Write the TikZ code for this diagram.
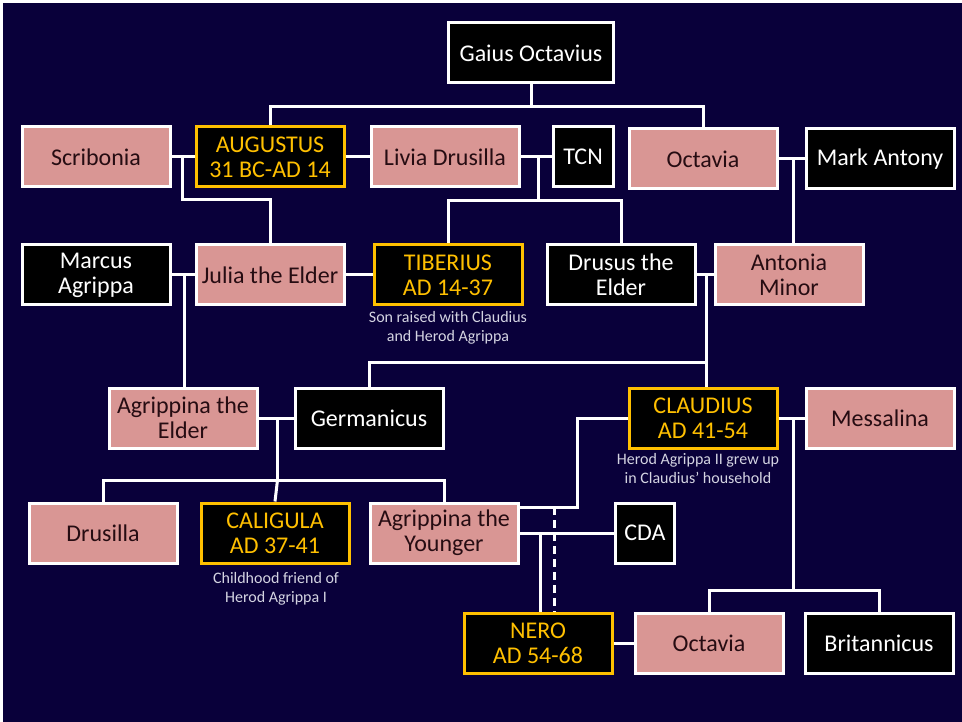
\documentclass[tikz,border=0pt]{standalone}
\usepackage{fontspec}
\setmainfont{Carlito}
\usetikzlibrary{calc}
\definecolor{navybg}{RGB}{9,0,58}
\definecolor{pinkfill}{RGB}{217,150,148}
\definecolor{pinktext}{RGB}{38,12,18}
\definecolor{gold}{RGB}{255,192,0}
\definecolor{notegray}{RGB}{212,212,226}
\tikzset{
  person/.style={draw=white, line width=3pt, minimum width=148pt, minimum height=60pt,
    inner sep=0pt, align=center, font=\fontsize{24}{25}\selectfont},
  pinkbox/.style={person, fill=pinkfill, text=pinktext},
  blackbox/.style={person, fill=black, text=white},
  emperor/.style={person, fill=black, draw=gold, text=gold},
  note/.style={text=notegray, align=center, inner sep=0pt, font=\fontsize{16}{19}\selectfont},
  link/.style={draw=white, line width=3pt},
}
\begin{document}
\begin{tikzpicture}[x=1pt, y=-1pt]
% background
\useasboundingbox (0,0) rectangle (962,722);
\fill[white] (0,0) rectangle (962,722);
\fill[navybg] (3,3) rectangle (962,722);
% row 0
\node[blackbox, minimum width=165pt] (gaius) at (531,53) {Gaius Octavius};
% row 1
\node[pinkbox] (scribonia) at (96,157) {Scribonia};
\node[emperor] (augustus) at (270,157) {AUGUSTUS\\31 BC-AD 14};
\node[pinkbox] (livia) at (445,157) {Livia Drusilla};
\node[blackbox, minimum width=60pt] (tcn) at (583,157) {TCN};
\node[pinkbox] (octaviaA) at (703,159) {Octavia};
\node[blackbox] (antony) at (880,159) {Mark Antony};
% row 2
\node[blackbox] (marcus) at (96,275) {Marcus\\Agrippa};
\node[pinkbox] (julia) at (270,275) {Julia the Elder};
\node[emperor] (tiberius) at (448,275) {TIBERIUS\\AD 14-37};
\node[blackbox] (drusus) at (621,275) {Drusus the\\Elder};
\node[pinkbox] (antonia) at (789,275) {Antonia\\Minor};
\node[note] (tibnote) at (448,328) {Son raised with Claudius\\and Herod Agrippa};
% row 3
\node[pinkbox] (agrElder) at (183,418) {Agrippina the\\Elder};
\node[blackbox] (germanicus) at (369,418) {Germanicus};
\node[emperor] (claudius) at (703,418) {CLAUDIUS\\AD 41-54};
\node[pinkbox] (messalina) at (880,418) {Messalina};
\node[note] (claudnote) at (698,469) {Herod Agrippa II grew up\\in Claudius’ household};
% row 4
\node[pinkbox] (drusilla) at (103,533) {Drusilla};
\node[emperor] (caligula) at (275,533) {CALIGULA\\AD 37-41};
\node[pinkbox] (agrYounger) at (444,533) {Agrippina the\\Younger};
\node[blackbox, minimum width=59pt] (cda) at (645,533) {CDA};
\node[note] (calinote) at (276,589) {Childhood friend of\\Herod Agrippa I};
% row 5
\node[emperor] (nero) at (538,643) {NERO\\AD 54-68};
\node[pinkbox] (octaviaB) at (709,643) {Octavia};
\node[blackbox] (britannicus) at (879,643) {Britannicus};
% Gaius Octavius -> children
\draw[link] (gaius.south) -- ++(0,22) coordinate (gk);
\draw[link] (augustus.north) |- (gk) -| (octaviaA.north);
% marriages, row 1
\draw[link] (scribonia) -- (augustus);
\draw[link] (augustus) -- (livia);
\draw[link] (livia) -- (tcn);
\draw[link] (octaviaA) -- (antony);
\coordinate (sa) at ([xshift=11pt]scribonia.east);
\draw[link] (sa) -- ++(0,43) -| (julia.north);
\coordinate (lt) at ([xshift=18pt]livia.east);
\draw[link] (lt) -- ++(0,44) coordinate (ltk);
\draw[link] (tiberius.north) |- (ltk) -| (drusus.north);
\coordinate (oa) at ([xshift=15pt]octaviaA.east);
\draw[link] (oa) -- (oa |- antonia.north);
% marriages, row 2
\draw[link] (marcus) -- (julia);
\draw[link] (julia) -- (tiberius);
\draw[link] (drusus) -- (antonia);
\coordinate (mj) at ([xshift=13pt]marcus.east);
\draw[link] (mj) -- (mj |- agrElder.north);
\coordinate (da) at ([xshift=10pt]drusus.east);
\draw[link] (da) -- (da |- claudius.north);
\draw[link] (germanicus.north) -- ++(0,-24) -| (da);
% marriages, row 3
\draw[link] (agrElder) -- (germanicus);
\draw[link] (claudius) -- (messalina);
\coordinate (ag) at ([xshift=19pt]agrElder.east);
\draw[link] (ag) -- ++(0,62) coordinate (agk);
\draw[link] (drusilla.north) |- (agk) -| (agrYounger.north);
\draw[link] (agk) -- (caligula.north);
\coordinate (cm) at ([xshift=15pt]claudius.east);
\draw[link] (cm) -- ++(0,172) coordinate (cmk);
\draw[link] (octaviaB.north) |- (cmk) -| (britannicus.north);
% Agrippina the Younger: Claudius, CDA, Nero
\coordinate (ay) at ([yshift=26pt]agrYounger.east);
\draw[link] (ay) -- ++(58,0) |- (claudius.west);
\coordinate (ayk) at ([xshift=35pt]ay);
\draw[link, dash pattern=on 8pt off 5pt] (ayk) -- (ayk |- nero.north);
\draw[link] (agrYounger) -- (cda);
\coordinate (ac) at ([xshift=21pt]agrYounger.east);
\draw[link] (ac) -- (ac |- nero.north);
\draw[link] (nero) -- (octaviaB);
\end{tikzpicture}
\end{document}
